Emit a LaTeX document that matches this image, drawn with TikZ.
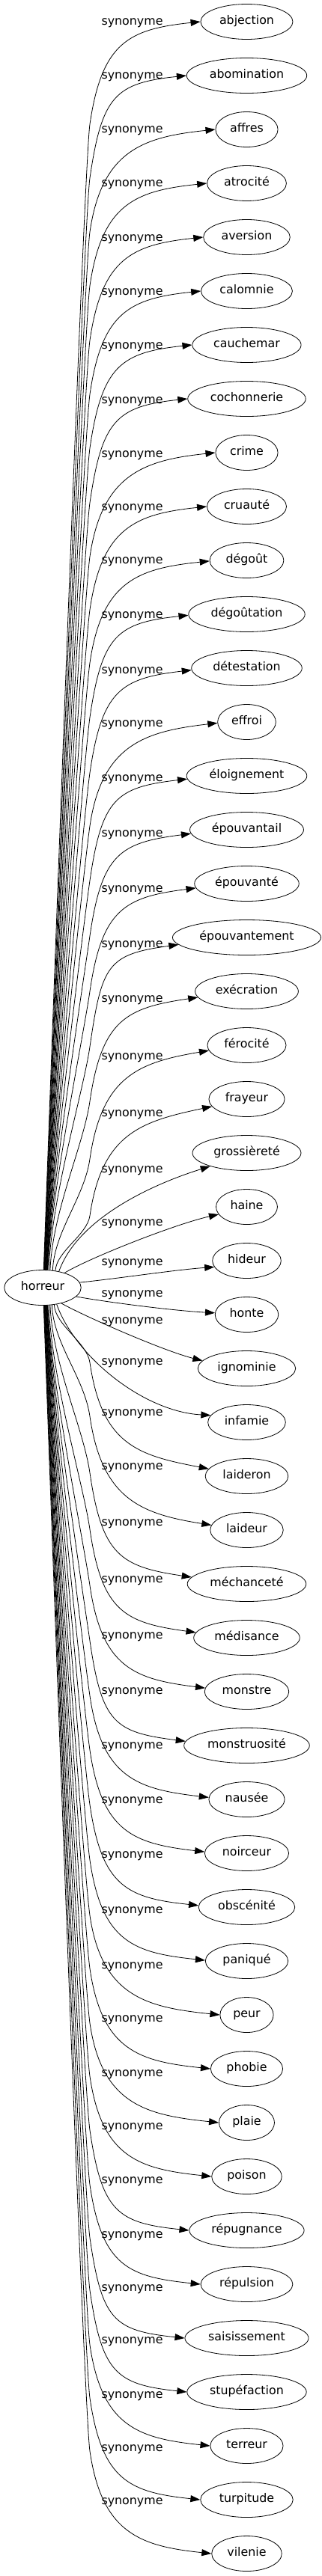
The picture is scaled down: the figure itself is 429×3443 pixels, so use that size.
\documentclass[tikz,border=0pt]{standalone}
\usepackage{fontspec}
\newfontfamily\dv{DejaVu Sans}
\usetikzlibrary{shapes.geometric,arrows.meta,calc}
\tikzset{
  tgt/.style={draw, ellipse, line width=0.8pt, minimum height=47pt, minimum width=71pt,
    inner xsep=7pt, inner ysep=1pt, text height=11.5pt, text depth=3.7pt,
    font=\dv\fontsize{15.85pt}{18pt}\selectfont},
  lab/.style={inner sep=0pt, text height=10pt, text depth=4pt,
    font=\dv\fontsize{15.85pt}{18pt}\selectfont},
  syn/.style={line width=0.8pt, -{Triangle[length=13pt,width=9pt]}},
}
% top edge: #1 target, #2 start angle, #3 end angle, #4 knee y, #5 arrival offset
\newcommand\edgetop[5]{%
  \draw[syn] let \p1=(h.#2), \p2=(#1.#3),
    \n1={-(#4+80)},
    \n2={min(100,0.35*((\n1)-(\y1)))},
    \n3={min(60,0.35*((\n1)-(\y1)))} in
    (\p1) .. controls ({\x1+0.04*\n2*1pt},{\y1+\n2*1pt}) and ({(120-0.145*\n3)*1pt},{(\n1-\n3)*1pt}) .. ({120pt},{\n1*1pt})
    .. controls ({136pt},{(30-#4)*1pt}) and ({\x2-95pt},{\y2-#5pt}) .. (\p2);}
% bottom edge
\newcommand\edgebot[5]{%
  \draw[syn] let \p1=(h.#2), \p2=(#1.#3),
    \n1={-(#4-80)},
    \n2={min(100,0.35*((\y1)-(\n1)))},
    \n3={min(60,0.35*((\y1)-(\n1)))} in
    (\p1) .. controls ({\x1+0.04*\n2*1pt},{\y1-\n2*1pt}) and ({(120-0.145*\n3)*1pt},{(\n1+\n3)*1pt}) .. ({120pt},{\n1*1pt})
    .. controls ({136pt},{-(#4+30)*1pt}) and ({\x2-95pt},{\y2+#5pt}) .. (\p2);}
\begin{document}
\begin{tikzpicture}[x=1pt,y=-1pt]
\useasboundingbox (0,0) rectangle (429,3443);
\node[tgt] (h) at (57,1721) {horreur};
\node[tgt] (n0) at (329.5,29) {abjection};
\node[tgt] (n1) at (329.5,101) {abomination};
\node[tgt] (n2) at (329.5,173) {affres};
\node[tgt] (n3) at (329.5,245) {atrocité};
\node[tgt] (n4) at (329.5,317) {aversion};
\node[tgt] (n5) at (329.5,389) {calomnie};
\node[tgt] (n6) at (329.5,461) {cauchemar};
\node[tgt] (n7) at (329.5,533) {cochonnerie};
\node[tgt] (n8) at (329.5,605) {crime};
\node[tgt] (n9) at (329.5,677) {cruauté};
\node[tgt] (n10) at (329.5,749) {dégoût};
\node[tgt] (n11) at (329.5,821) {dégoûtation};
\node[tgt] (n12) at (329.5,893) {détestation};
\node[tgt] (n13) at (329.5,965) {effroi};
\node[tgt] (n14) at (329.5,1037) {éloignement};
\node[tgt] (n15) at (329.5,1109) {épouvantail};
\node[tgt] (n16) at (329.5,1181) {épouvanté};
\node[tgt] (n17) at (329.5,1253) {épouvantement};
\node[tgt] (n18) at (329.5,1325) {exécration};
\node[tgt] (n19) at (329.5,1397) {férocité};
\node[tgt] (n20) at (329.5,1469) {frayeur};
\node[tgt] (n21) at (329.5,1541) {grossièreté};
\node[tgt] (n22) at (329.5,1613) {haine};
\node[tgt] (n23) at (329.5,1685) {hideur};
\node[tgt] (n24) at (329.5,1757) {honte};
\node[tgt] (n25) at (329.5,1829) {ignominie};
\node[tgt] (n26) at (329.5,1901) {infamie};
\node[tgt] (n27) at (329.5,1973) {laideron};
\node[tgt] (n28) at (329.5,2045) {laideur};
\node[tgt] (n29) at (329.5,2117) {méchanceté};
\node[tgt] (n30) at (329.5,2189) {médisance};
\node[tgt] (n31) at (329.5,2261) {monstre};
\node[tgt] (n32) at (329.5,2333) {monstruosité};
\node[tgt] (n33) at (329.5,2405) {nausée};
\node[tgt] (n34) at (329.5,2477) {noirceur};
\node[tgt] (n35) at (329.5,2549) {obscénité};
\node[tgt] (n36) at (329.5,2621) {paniqué};
\node[tgt] (n37) at (329.5,2693) {peur};
\node[tgt] (n38) at (329.5,2765) {phobie};
\node[tgt] (n39) at (329.5,2837) {plaie};
\node[tgt] (n40) at (329.5,2909) {poison};
\node[tgt] (n41) at (329.5,2981) {répugnance};
\node[tgt] (n42) at (329.5,3053) {répulsion};
\node[tgt] (n43) at (329.5,3125) {saisissement};
\node[tgt] (n44) at (329.5,3197) {stupéfaction};
\node[tgt] (n45) at (329.5,3269) {terreur};
\node[tgt] (n46) at (329.5,3341) {turpitude};
\node[tgt] (n47) at (329.5,3413) {vilenie};
% labels
\foreach \i/\y in {0/30,1/102,2/174,3/246,4/319,5/391,6/463,7/536,8/608,9/679,10/750,11/823,
  12/897,13/968,14/1041,15/1115,16/1189,17/1263,18/1336,19/1413,20/1489,21/1564,22/1635,23/1688,
  24/1730,25/1766.5,26/1821,27/1889,28/1961,29/2036.5,30/2112,31/2187,32/2261,33/2334.5,34/2407,
  35/2480,36/2554,37/2628,38/2699,39/2772,40/2843,41/2915,42/2988,43/3059,44/3129,45/3202,
  46/3273,47/3344}
  \node[lab] (l\i) at (176.5,\y) {synonyme};
% top edges
\edgetop{n0}{87.6}{180}{86}{10}
\edgetop{n1}{86.8}{180}{158}{10}
\edgetop{n2}{85.95}{180}{230}{10}
\edgetop{n3}{85.1}{180}{302}{10}
\edgetop{n4}{84.3}{180}{375}{10}
\edgetop{n5}{83.5}{180}{447}{10}
\edgetop{n6}{82.6}{180}{519}{10}
\edgetop{n7}{81.8}{180}{592}{10}
\edgetop{n8}{81.0}{180}{664}{10}
\edgetop{n9}{80.2}{180}{735}{10}
\edgetop{n10}{79.4}{181}{806}{10}
\edgetop{n11}{78.6}{181}{879}{10}
\edgetop{n12}{77.8}{182}{953}{11}
\edgetop{n13}{77.0}{182}{1024}{11}
\edgetop{n14}{76.2}{183}{1097}{11}
\edgetop{n15}{75.4}{184}{1171}{12}
\edgetop{n16}{74.6}{185}{1245}{12}
\edgetop{n17}{71.4}{186}{1319}{13}
\edgetop{n18}{67.0}{187}{1392}{14}
\edgetop{n19}{60.8}{188}{1469}{16}
\edgetop{n20}{53.2}{192}{1545}{20}
\draw[syn] (h.45) .. controls ($(h.45)+(25,-70)$) and ($(n21.200)+(-80,25)$) .. (n21.200);
\draw[syn] (h.34) .. controls ($(h.34)+(33,-20)$) and ($(n22.195)+(-58,13)$) .. (n22.195);
\draw[syn] (h.8) .. controls ($(h.8)+(50,-5)$) and ($(n23.191)+(-55,4)$) .. (n23.191);
\draw[syn] (h.-15) .. controls ($(h.-15)+(45,8)$) and ($(n24.177)+(-55,-3)$) .. (n24.177);
\draw[syn] (h.-40) .. controls ($(h.-40)+(30,17)$) and ($(n25.170)+(-52,-13)$) .. (n25.170);
\draw[syn] (h.-50) .. controls ($(h.-50)+(25,70)$) and ($(n26.169)+(-90,-5)$) .. (n26.169);
% bottom edges
\edgebot{n27}{-56.9}{169}{1901}{18}
\edgebot{n28}{-62.8}{172}{1973}{15}
\edgebot{n29}{-67}{173}{2048.5}{14}
\edgebot{n30}{-71.4}{174}{2124}{13}
\edgebot{n31}{-74.6}{175}{2199}{12}
\edgebot{n32}{-75.4}{176}{2273}{12}
\edgebot{n33}{-76.2}{177}{2346.5}{11}
\edgebot{n34}{-77.0}{178}{2419}{11}
\edgebot{n35}{-77.8}{178}{2492}{10}
\edgebot{n36}{-78.6}{179}{2566}{10}
\edgebot{n37}{-79.4}{180}{2640}{10}
\edgebot{n38}{-80.2}{180}{2711}{10}
\edgebot{n39}{-81.0}{180}{2784}{10}
\edgebot{n40}{-81.8}{180}{2855}{10}
\edgebot{n41}{-82.6}{180}{2927}{10}
\edgebot{n42}{-83.5}{180}{3000}{10}
\edgebot{n43}{-84.3}{180}{3071}{10}
\edgebot{n44}{-85.1}{180}{3141}{10}
\edgebot{n45}{-85.95}{180}{3214}{10}
\edgebot{n46}{-86.8}{180}{3285}{10}
\edgebot{n47}{-87.6}{180}{3356}{10}
\end{tikzpicture}
\end{document}
